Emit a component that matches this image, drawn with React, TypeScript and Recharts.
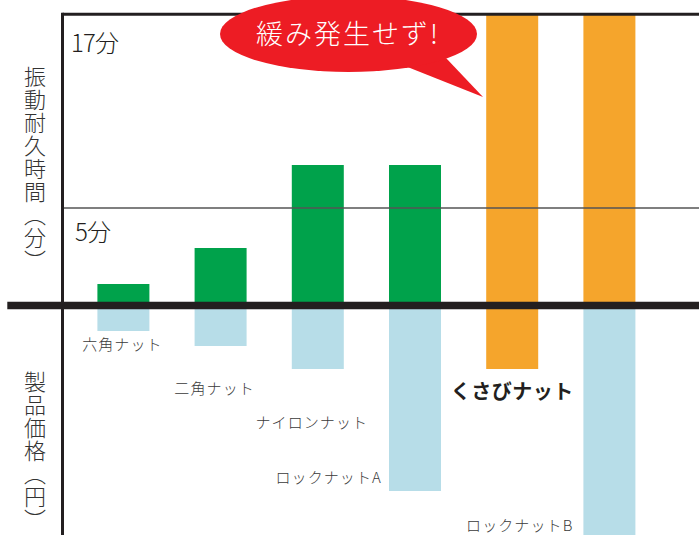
import React from 'react';
import { ComposedChart, Bar, XAxis, YAxis, Cell, ReferenceLine, LabelList, Label } from 'recharts';

// ---- data ----
const NUTS = ['六角ナット', '二角ナット', 'ナイロンナット', 'ロックナットA', 'くさびナット', 'ロックナットB'];
// vibration endurance time (minutes); 17 = test limit reached without loosening
const DURATION_MIN = [1.1, 2.95, 7.2, 7.2, 17, 17];
// relative product price (no scale printed on the chart)
const PRICE_REL = [25.5, 40.5, 63.5, 185.5, 63.5, 260];
const NO_LOOSENING = [false, false, false, false, true, true];
const FEATURED = 4; // くさびナット
const TIME_TICKS = [5, 17];
const TIME_TICK_LABELS = ['5分', '17分'];
const Y_TITLE_TOP = '振動耐久時間（分）';
const Y_TITLE_BOTTOM = '製品価格（円）';
const BUBBLE_TEXT = '緩み発生せず!';

// ---- axis domains (chart is schematic: top border = test limit) ----
const TIME_DOMAIN: [number, number] = [-11.77, 14.93];
const PRICE_DOMAIN: [number, number] = [-229.5, 291.2];

const GREEN = '#00A24B';
const ORANGE = '#F5A52C';
const BLUE = '#B7DDE8';
const INK = '#231F20';
const FONT = '"Noto Sans CJK JP", "Noto Sans", sans-serif';

const data = NUTS.map((name, i) => ({
  name,
  time: DURATION_MIN[i],
  price: -PRICE_REL[i],
}));

const LABEL_LAYOUT = [
  { anchor: 'middle', dx: -1, dy: 44.5, bold: false },
  { anchor: 'middle', dx: -6, dy: 88.5, bold: false },
  { anchor: 'middle', dx: -6, dy: 122.5, bold: false },
  { anchor: 'end', dx: -33, dy: 177.5, bold: false },
  { anchor: 'middle', dx: 0, dy: 93, bold: true },
  { anchor: 'end', dx: -36, dy: 225.5, bold: false },
];

const renderNutLabel = (props: any) => {
  const { x, y, width, height, index, value } = props;
  const lay = LABEL_LAYOUT[index];
  const cx = Number(x) + Number(width) / 2;
  const zeroY = Math.min(Number(y), Number(y) + Number(height));
  return (
    <text
      x={cx + lay.dx}
      y={zeroY + lay.dy}
      textAnchor={lay.anchor as any}
      fontFamily={FONT}
      fontSize={lay.bold ? 20 : 15}
      fontWeight={lay.bold ? 700 : 300}
      letterSpacing={lay.bold ? 0.5 : 1.1}
      fill={lay.bold ? INK : '#3a3a3a'}
    >
      {value}
    </text>
  );
};

const tickLabel = (text: string, dx: number, dy: number) => (props: any) => {
  const vb = props.viewBox || {};
  return (
    <text x={vb.x + dx} y={vb.y + dy} fontFamily={FONT} fontSize={24} fontWeight={300} letterSpacing={-0.8} fill={INK}>
      {text}
    </text>
  );
};

const zeroLineShape = (p: any) => (
  <line x1={7.3} x2={p.x2} y1={p.y1} y2={p.y2} stroke={INK} strokeWidth={7.5} />
);

// top border of the plot, plus the vertical axis line descending from its left end
const topBorderShape = (p: any) => (
  <g>
    <line x1={p.x1} x2={p.x2} y1={p.y1} y2={p.y2} stroke={INK} strokeWidth={3} />
    <line x1={p.x1} x2={p.x1} y1={p.y1 - 1.5} y2={p.y1 + 560} stroke={INK} strokeWidth={3} />
  </g>
);

const vTitle = (top: number): React.CSSProperties => ({
  position: 'absolute',
  left: 24,
  top,
  writingMode: 'vertical-rl',
  fontFamily: FONT,
  fontSize: 22,
  fontWeight: 300,
  lineHeight: '22px',
  letterSpacing: 1,
  color: '#333',
  whiteSpace: 'nowrap',
});

export default function App() {
  return (
    <div style={{ position: 'absolute', left: 0, top: 0, width: 699, height: 535, overflow: 'hidden', background: '#fff' }}>
      <ComposedChart
        width={699}
        height={535}
        data={data}
        margin={{ top: 14.3, right: 0, bottom: 0, left: 62.5 }}
        barGap={-52}
        barSize={52}
      >
        <XAxis dataKey="name" hide padding={{ left: 11.9, right: 41.4 }} />
        <YAxis yAxisId="time" hide domain={TIME_DOMAIN} allowDataOverflow />
        <YAxis yAxisId="price" hide domain={PRICE_DOMAIN} allowDataOverflow />
        <Bar yAxisId="price" dataKey="price" isAnimationActive={false}>
          {data.map((_, i) => (
            <Cell key={i} fill={i === FEATURED ? ORANGE : BLUE} />
          ))}
          <LabelList dataKey="name" content={renderNutLabel} />
        </Bar>
        <Bar yAxisId="time" dataKey="time" isAnimationActive={false}>
          {data.map((_, i) => (
            <Cell key={i} fill={NO_LOOSENING[i] ? ORANGE : GREEN} />
          ))}
        </Bar>
        <ReferenceLine yAxisId="time" y={TIME_TICKS[0]} stroke="#555" strokeWidth={1.6}>
          <Label content={tickLabel(TIME_TICK_LABELS[0], 12.5, 33)} />
        </ReferenceLine>
        <ReferenceLine yAxisId="time" y={TIME_DOMAIN[1]} shape={topBorderShape}>
          <Label content={tickLabel(TIME_TICK_LABELS[1], 8.5, 37.4)} />
        </ReferenceLine>
        <ReferenceLine yAxisId="time" y={0} shape={zeroLineShape} />
      </ComposedChart>

      <div style={vTitle(66)}>{Y_TITLE_TOP}</div>
      <div style={vTitle(371)}>{Y_TITLE_BOTTOM}</div>

      <svg width={699} height={535} style={{ position: 'absolute', left: 0, top: 0, pointerEvents: 'none' }}>
        <polygon points="405,66 446,58 483,97" fill="#ED1C24" />
        <ellipse cx={348.5} cy={34} rx={128.5} ry={38} fill="#ED1C24" />
        <text x={348} y={44} textAnchor="middle" fontFamily={FONT} fontSize={27} fontWeight={300} letterSpacing={2} fill="#fff">
          {BUBBLE_TEXT}
        </text>
      </svg>
    </div>
  );
}
